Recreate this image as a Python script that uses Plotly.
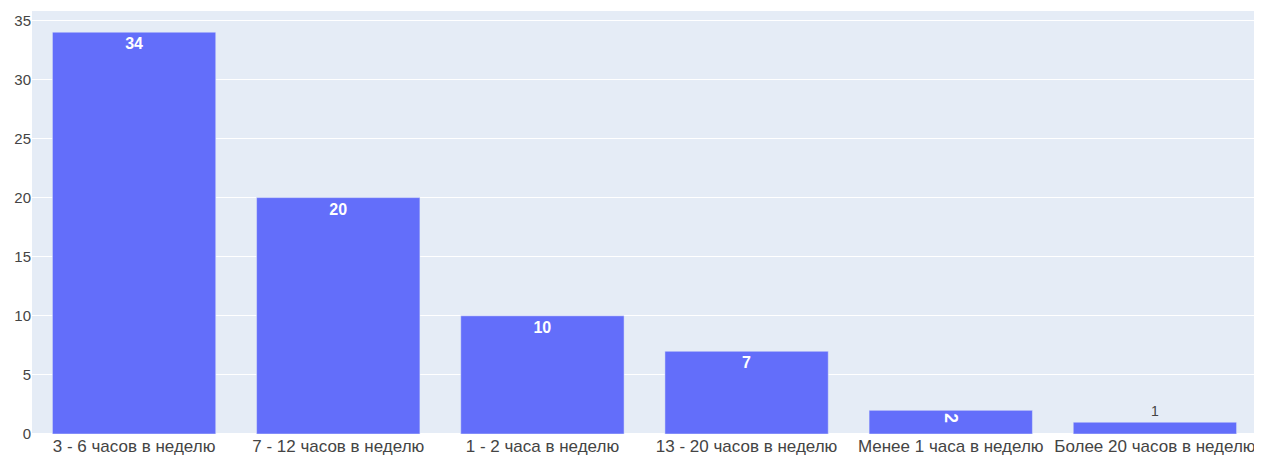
import plotly.graph_objects as go

categories = ["3 - 6 часов в неделю", "7 - 12 часов в неделю", "1 - 2 часа в неделю",
              "13 - 20 часов в неделю", "Менее 1 часа в неделю", "Более 20 часов в неделю"]
counts = [34, 20, 10, 7, 2, 1]

# slightly larger label on the short bar so Plotly auto-rotates it, as in the reference
inside_sizes = [16, 16, 16, 16, 17.5, 16]

fig = go.Figure(go.Bar(
    x=categories, y=counts, text=counts, textposition="auto",
    marker_color="#636efa",
    insidetextfont=dict(size=inside_sizes, family="Arial", weight="bold", color="white"),
    outsidetextfont=dict(size=14, family="Arial", color="#444"),
))
fig.update_layout(
    template="plotly",
    width=1254, height=449,
    margin=dict(l=24, r=5, t=3, b=23, autoexpand=False),
    font=dict(size=16, family="Arial", color="#444"),
    showlegend=False,
)
fig.update_xaxes(tickfont=dict(size=17, family="Arial", color="#444"), automargin=False)
fig.update_yaxes(tickfont=dict(size=15, family="Arial", color="#444"), automargin=False)
fig.write_html("out.html")
